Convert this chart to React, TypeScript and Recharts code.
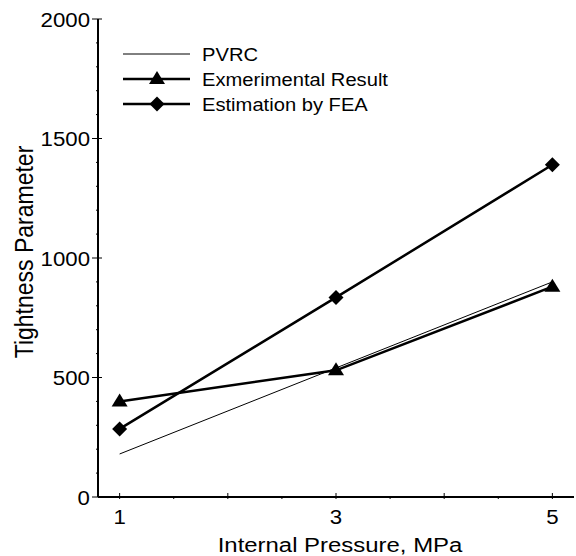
import { Legend, Line, LineChart, XAxis, YAxis } from "recharts";

const pressure = [1, 3, 5];
const pvrc = [180, 540, 900];
const experimental = [400, 530, 880];
const fea = [285, 835, 1390];

const xTicks = [1, 1.5, 2, 2.5, 3, 3.5, 4, 4.5, 5];
const xLabels = [1, 3, 5];
const yTicks = [0, 100, 200, 300, 400, 500, 600, 700, 800, 900, 1000, 1100, 1200, 1300, 1400, 1500, 1600, 1700, 1800, 1900, 2000];
const yLabels = [0, 500, 1000, 1500, 2000];

const data = pressure.map((p, i) => ({ p, pvrc: pvrc[i], exp: experimental[i], fea: fea[i] }));

const FONT = "'Liberation Sans', Arial, sans-serif";

// the source figure's text is a bit wider than plain Arial
function WideText({ x, y, sx, size, anchor, rotate, children }: any) {
  const rot = rotate ? ` rotate(${rotate})` : "";
  return (
    <text
      transform={`translate(${x},${y}) scale(${sx},1)${rot}`}
      textAnchor={anchor || "start"}
      fontSize={size}
      fill="#000"
      fontFamily={FONT}
    >
      {children}
    </text>
  );
}

function Triangle({ cx, cy }: { cx: number; cy: number }) {
  return <path d={`M${cx},${cy - 8} L${cx + 8},${cy + 5} L${cx - 8},${cy + 5} Z`} fill="#000" />;
}

function Diamond({ cx, cy }: { cx: number; cy: number }) {
  return <path d={`M${cx},${cy - 7.5} L${cx + 7.5},${cy} L${cx},${cy + 7.5} L${cx - 7.5},${cy} Z`} fill="#000" />;
}

const BottomTick = ({ x, y, payload }: any) => {
  const v = payload.value;
  const major = Number.isInteger(v);
  return (
    <g>
      <line x1={x} x2={x} y1={y} y2={y - (major ? 6 : 3)} stroke="#000" />
      {xLabels.includes(v) && (
        <WideText x={x} y={y + 25} sx={1.06} size={21} anchor="middle">
          {v}
        </WideText>
      )}
    </g>
  );
};

const TopTick = ({ x, y, payload }: any) => {
  const major = Number.isInteger(payload.value);
  return <line x1={x} x2={x} y1={y} y2={y + (major ? 6 : 3)} stroke="#000" />;
};

const LeftTick = ({ x, y, payload }: any) => {
  const v = payload.value;
  const major = yLabels.includes(v);
  return (
    <g>
      {major ? (
        <line x1={x - 4} x2={x + 6} y1={y} y2={y} stroke="#000" />
      ) : (
        <line x1={x} x2={x + 3} y1={y} y2={y} stroke="#000" />
      )}
      {major && (
        <WideText x={x - 6} y={y + 7.5} sx={1.06} size={21} anchor="end">
          {v}
        </WideText>
      )}
    </g>
  );
};

const RightTick = ({ x, y, payload }: any) => {
  const major = yLabels.includes(payload.value);
  return <line x1={x} x2={x - (major ? 6 : 3)} y1={y} y2={y} stroke="#000" />;
};

const XTitle = ({ viewBox }: any) => (
  <WideText x={viewBox.x + viewBox.width / 2 + 4} y={viewBox.y + 55} sx={1.14} size={21} anchor="middle">
    Internal Pressure, MPa
  </WideText>
);

const YTitle = ({ viewBox }: any) => (
  <WideText x={viewBox.x + 33} y={viewBox.y + viewBox.height / 2 - 6} sx={1.14} size={23} anchor="middle" rotate={-90}>
    Tightness Parameter
  </WideText>
);

const legendRows = [
  { name: "PVRC", width: 1, marker: null },
  { name: "Exmerimental Result", width: 2.5, marker: "triangle" },
  { name: "Estimation by FEA", width: 2.5, marker: "diamond" },
];

const LegendBox = () => (
  <svg width={300} height={80}>
    {legendRows.map((r, i) => {
      const y = 12 + 25 * i;
      return (
        <g key={r.name}>
          <line x1={8} x2={75} y1={y} y2={y} stroke="#000" strokeWidth={r.width} />
          {r.marker === "triangle" && <Triangle cx={42} cy={y} />}
          {r.marker === "diamond" && <Diamond cx={42} cy={y} />}
          <WideText x={87} y={y + 6.5} sx={1.09} size={18.5}>
            {r.name}
          </WideText>
        </g>
      );
    })}
  </svg>
);

export default function App() {
  return (
    <div style={{ position: "absolute", left: 0, top: 0, background: "#fff" }}>
      <LineChart width={576} height={556} data={data} margin={{ top: 19, right: 2, bottom: 0, left: 0 }} style={{ fontFamily: FONT }}>
        <XAxis
          dataKey="p"
          type="number"
          domain={[0.8, 5.2]}
          ticks={xTicks}
          interval={0}
          height={59}
          tickSize={0}
          tickLine={false}
          tick={<BottomTick />}
          axisLine={{ stroke: "#000", strokeWidth: 2 }}
          label={<XTitle />}
        />
        <XAxis
          xAxisId="top"
          orientation="top"
          type="number"
          domain={[0.8, 5.2]}
          ticks={xTicks}
          interval={0}
          height={0}
          tickSize={0}
          tickLine={false}
          tick={<TopTick />}
          axisLine={{ stroke: "#000", strokeWidth: 2 }}
        />
        <YAxis
          type="number"
          domain={[0, 2000]}
          ticks={yTicks}
          interval={0}
          width={98}
          tickSize={0}
          tickLine={false}
          tick={<LeftTick />}
          axisLine={{ stroke: "#000", strokeWidth: 2 }}
          label={<YTitle />}
        />
        <YAxis
          yAxisId="right"
          orientation="right"
          type="number"
          domain={[0, 2000]}
          ticks={yTicks}
          interval={0}
          width={0}
          tickSize={0}
          tickLine={false}
          tick={<RightTick />}
          axisLine={{ stroke: "#000", strokeWidth: 2 }}
        />
        <Legend layout="vertical" align="center" verticalAlign="middle" content={<LegendBox />} wrapperStyle={{ left: 115, top: 42, width: 300 }} />
        <Line type="linear" dataKey="pvrc" stroke="#000" strokeWidth={1} dot={false} activeDot={false} isAnimationActive={false} />
        <Line
          type="linear"
          dataKey="exp"
          stroke="#000"
          strokeWidth={2.5}
          dot={(p: any) => <Triangle key={`t${p.index}`} cx={p.cx} cy={p.cy} />}
          activeDot={false}
          isAnimationActive={false}
        />
        <Line
          type="linear"
          dataKey="fea"
          stroke="#000"
          strokeWidth={2.5}
          dot={(p: any) => <Diamond key={`d${p.index}`} cx={p.cx} cy={p.cy} />}
          activeDot={false}
          isAnimationActive={false}
        />
      </LineChart>
    </div>
  );
}
